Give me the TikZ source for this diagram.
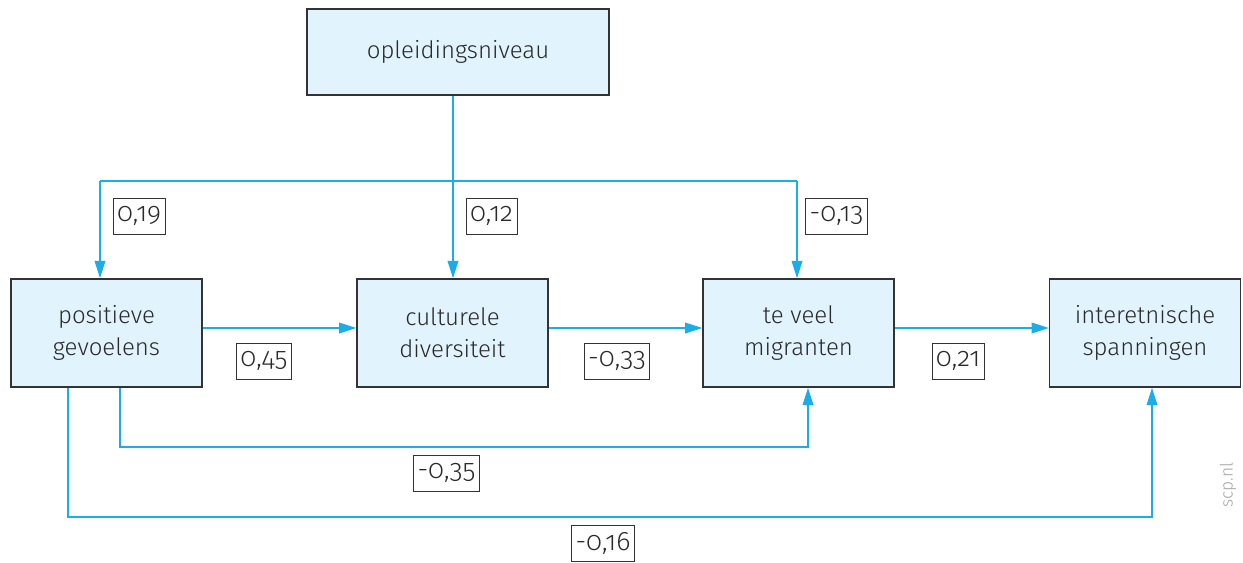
\documentclass[tikz,border=0pt]{standalone}
\usepackage{fontspec}
\setmainfont{Fira Sans Light}[Numbers=OldStyle]
\usetikzlibrary{arrows.meta,calc}
\definecolor{boxfill}{HTML}{E1F3FC}
\definecolor{boxline}{HTML}{333333}
\definecolor{arrowc}{HTML}{1AADEA}
\definecolor{txt}{HTML}{2A2A2A}
\tikzset{
  mainbox/.style={draw=boxline, line width=1.2pt, fill=boxfill, minimum width=143pt, minimum height=81pt, align=center, text=txt, font=\fontsize{18}{24}\selectfont, inner sep=0pt},
  coef/.style={draw=boxline, line width=0.6pt, fill=white, minimum height=27pt, inner xsep=3pt, inner ysep=2pt, text=txt, font=\fontsize{20}{22}\selectfont},
  conn/.style={draw=arrowc, line width=1.1pt},
  arr/.style={conn, -{Triangle[length=13pt,width=8pt]}}
}
\newcommand{\rpad}{\hspace{4pt}}
\begin{document}
\begin{tikzpicture}[x=0.75pt,y=-0.75pt]
\useasboundingbox (0,0) rectangle (1243,563);
% boxes
\node[mainbox, minimum width=226.5pt, minimum height=64.5pt] (op) at (458,52) {opleidingsniveau};
\node[mainbox] (pg) at (106.5,333) {positieve\\gevoelens};
\node[mainbox] (cd) at (452.5,333) {culturele\\diversiteit};
\node[mainbox] (tvm) at (798.5,333) {te veel\\migranten};
\node[mainbox] (ie) at (1145,333) {interetnische\\spanningen};
% coordinates
\coordinate (v) at (453,181);
\coordinate (tl) at (100,181);
\coordinate (tr) at (797,181);
\coordinate (a1) at (120,447);
\coordinate (a2) at (808,447);
\coordinate (b1) at (68,517);
\coordinate (b2) at (1152,517);
% connectors
\draw[arr] (v |- op.south) -- (v |- cd.north);
\draw[conn] (tl) -- (tr);
\draw[arr] (tl) -- (tl |- pg.north);
\draw[arr] (tr) -- (tr |- tvm.north);
\draw[arr] ($(pg.east)+(0,-5)$) -- ($(cd.west)+(0,-5)$);
\draw[arr] ($(cd.east)+(0,-5)$) -- ($(tvm.west)+(0,-5)$);
\draw[arr] ($(tvm.east)+(0,-5)$) -- ($(ie.west)+(0,-5)$);
\draw[arr] (a1 |- pg.south) -- (a1) -- (a2) -- (a2 |- tvm.south);
\draw[arr] (b1 |- pg.south) -- (b1) -- (b2) -- (b2 |- ie.south);
% coefficients
\node[coef] (c1) at (139,216) {0,19\rpad};
\node[coef] (c2) at (491.5,216) {0,12\rpad};
\node[coef] (c3) at (836.5,216) {-0,13\rpad};
\node[coef] (c4) at (264,361) {0,45\rpad};
\node[coef] (c5) at (617,361) {-0,33\rpad};
\node[coef] (c6) at (958,361) {0,21\rpad};
\node[coef] (c7) at (446.5,473) {-0,35\rpad};
\node[coef] (c8) at (603,543.5) {-0,16\rpad};
% source
\node[rotate=90, text=gray!70, font=\fontsize{13}{15}\selectfont] (src) at (1228,485) {scp.nl};
\end{tikzpicture}
\end{document}
